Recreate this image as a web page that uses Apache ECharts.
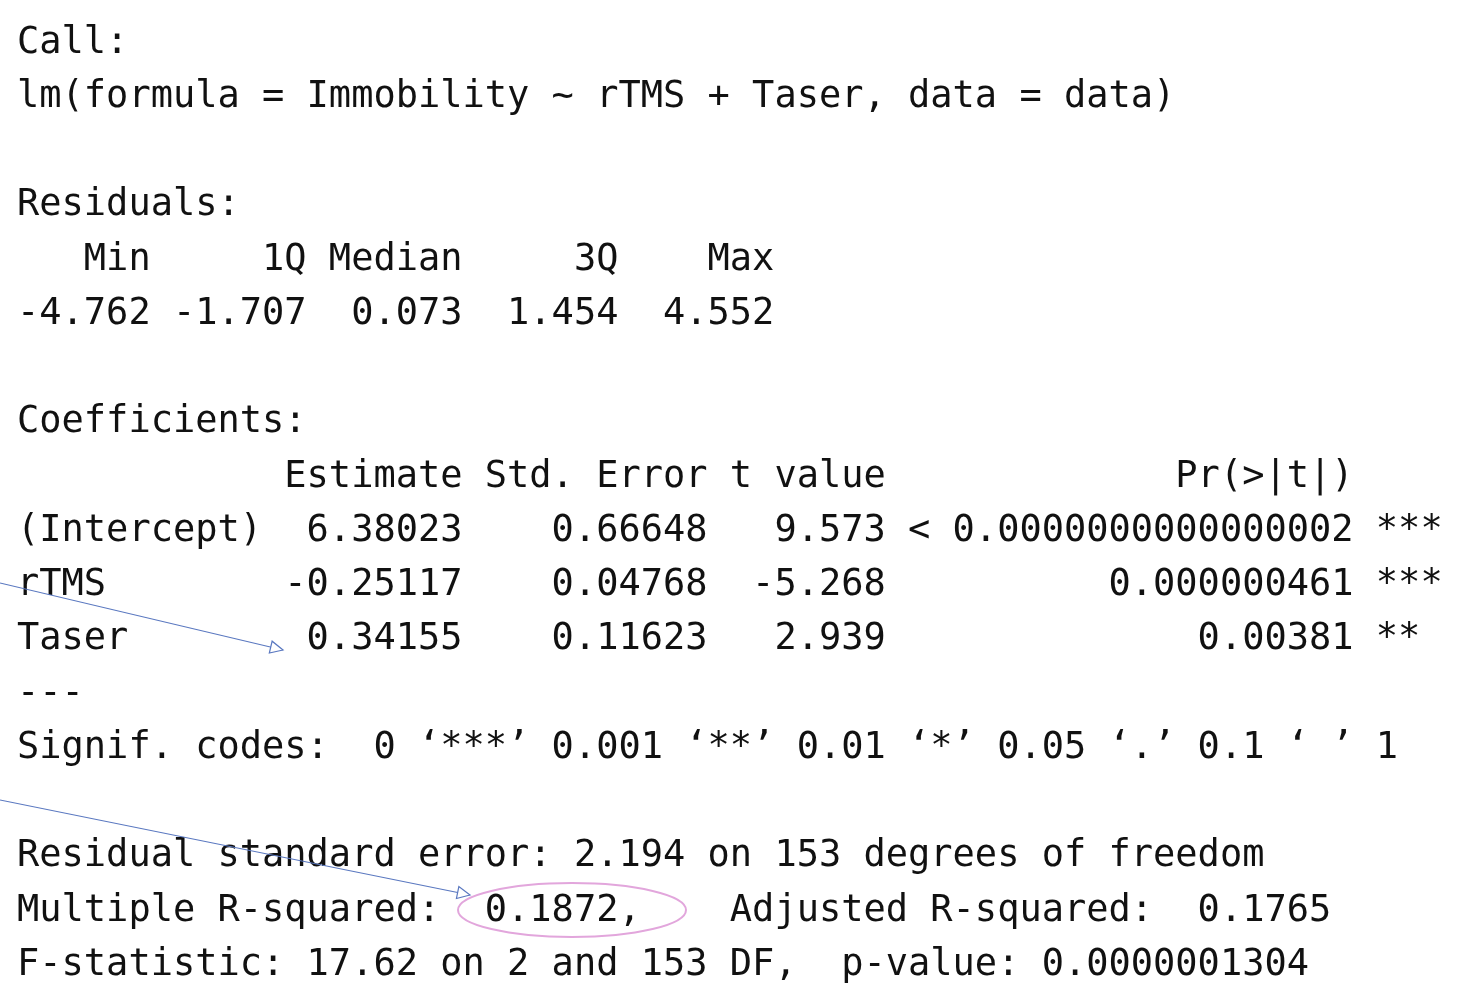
<!DOCTYPE html>
<html>
<head>
<meta charset="utf-8">
<script src="https://cdn.jsdelivr.net/npm/echarts@6/dist/echarts.min.js"></script>
<style>html,body{margin:0;padding:0;background:#fff}#main{width:1468px;height:998px}</style>
</head>
<body>
<div id="main"></div>
<script>
// R summary(lm) output, one entry per console line
var callLines = [
    'Call:',
    'lm(formula = Immobility ~ rTMS + Taser, data = data)',
    ''
];
var residualLines = [
    'Residuals:',
    '   Min     1Q Median     3Q    Max',
    '-4.762 -1.707  0.073  1.454  4.552',
    ''
];
var coefLines = [
    'Coefficients:',
    '            Estimate Std. Error t value             Pr(>|t|)',
    '(Intercept)  6.38023    0.66648   9.573 < 0.0000000000000002 ***',
    'rTMS        -0.25117    0.04768  -5.268          0.000000461 ***',
    'Taser        0.34155    0.11623   2.939              0.00381 **',
    '---',
    'Signif. codes:  0 \u2018***\u2019 0.001 \u2018**\u2019 0.01 \u2018*\u2019 0.05 \u2018.\u2019 0.1 \u2018 \u2019 1',
    ''
];
var fitLines = [
    'Residual standard error: 2.194 on 153 degrees of freedom',
    'Multiple R-squared:  0.1872,    Adjusted R-squared:  0.1765',
    'F-statistic: 17.62 on 2 and 153 DF,  p-value: 0.0000001304'
];

var allLines = callLines.concat(residualLines, coefLines, fitLines);
var lineTop = 43, lineStep = 54.25, leftX = 17;
var arrowColor = '#5a78c0';

var elements = [];
allLines.forEach(function (t, i) {
    if (!t) return;
    elements.push({
        type: 'text',
        x: leftX, y: lineTop + i * lineStep,
        style: {
            text: t, fill: '#111',
            font: '37px "DejaVu Sans Mono", monospace',
            textVerticalAlign: 'middle'
        }
    });
});

function arrow(x1, y1, x2, y2) {
    var a = Math.atan2(y2 - y1, x2 - x1), L = 14, w = 0.45;
    elements.push({ type: 'line', shape: { x1: x1, y1: y1, x2: x2, y2: y2 },
        style: { stroke: arrowColor, lineWidth: 1.2 } });
    elements.push({ type: 'polygon', shape: { points: [
        [x2, y2],
        [x2 - L * Math.cos(a - w), y2 - L * Math.sin(a - w)],
        [x2 - L * Math.cos(a + w), y2 - L * Math.sin(a + w)]
    ] }, style: { fill: '#fff', stroke: arrowColor, lineWidth: 1.2 } });
}
arrow(0, 583, 283, 650);
arrow(0, 800, 470, 895);

elements.push({ type: 'ellipse', shape: { cx: 572, cy: 910, rx: 114, ry: 27 },
    style: { fill: 'none', stroke: '#e2a6dc', lineWidth: 2 } });

var myChart = echarts.init(document.getElementById('main'));
myChart.setOption({ backgroundColor: '#fff', graphic: { elements: elements } });
</script>
</body>
</html>
